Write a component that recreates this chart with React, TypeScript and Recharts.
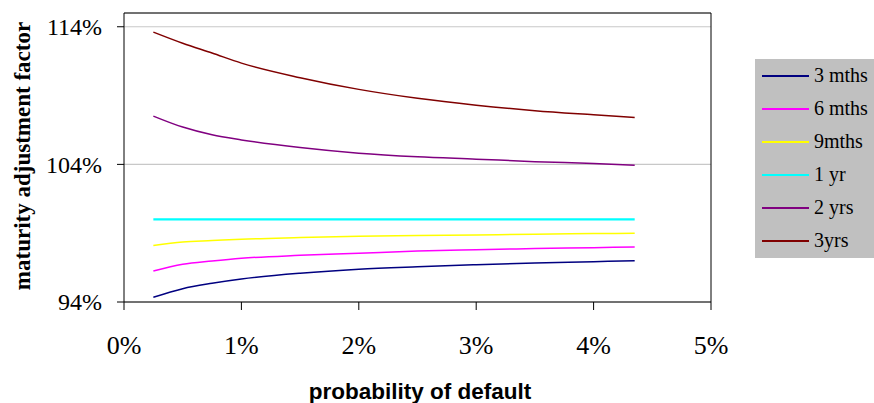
import React from 'react';
import { LineChart, Line, XAxis, YAxis, CartesianGrid, ReferenceLine, Legend } from 'recharts';

const pd = [0.25, 0.5, 0.75, 1, 1.5, 2, 2.5, 3, 3.5, 4, 4.35];
const m3 = [94.34, 94.97, 95.36, 95.67, 96.09, 96.38, 96.56, 96.71, 96.84, 96.93, 97.0];
const m6 = [96.25, 96.74, 96.98, 97.18, 97.39, 97.54, 97.7, 97.8, 97.88, 97.95, 98.0];
const m9 = [98.1, 98.36, 98.46, 98.56, 98.68, 98.78, 98.83, 98.87, 98.92, 98.97, 99.0];
const y1 = [100, 100, 100, 100, 100, 100, 100, 100, 100, 100, 100];
const y2 = [107.51, 106.71, 106.15, 105.78, 105.22, 104.81, 104.55, 104.38, 104.2, 104.06, 103.94];
const y3 = [113.61, 112.8, 112.09, 111.36, 110.3, 109.45, 108.8, 108.3, 107.9, 107.6, 107.4];

const xTicks = [0, 1, 2, 3, 4, 5];
const yTicks = [94, 104, 114];

const series = [
  { key: 'm3', name: '3 mths', color: '#000080', width: 1.5 },
  { key: 'm6', name: '6 mths', color: '#FF00FF', width: 1.5 },
  { key: 'm9', name: '9mths', color: '#FFFF00', width: 1.5 },
  { key: 'y1', name: '1 yr', color: '#00FFFF', width: 2.2 },
  { key: 'y2', name: '2 yrs', color: '#800080', width: 1.5 },
  { key: 'y3', name: '3yrs', color: '#800000', width: 1.5 },
];

const data = pd.map((p, i) => ({ pd: p, m3: m3[i], m6: m6[i], m9: m9[i], y1: y1[i], y2: y2[i], y3: y3[i] }));

const serif = "'Liberation Serif', 'Times New Roman', serif";
const sans = "'Liberation Sans', Arial, sans-serif";

const XTick = (props: any) => (
  <text x={props.x} y={props.y} dy="0.71em" textAnchor="middle" fill="#000" style={{ fontFamily: serif, fontSize: 26 }}>
    {`${props.payload.value}%`}
  </text>
);

const YTick = (props: any) => (
  <text x={props.x} y={props.y} dy="0.35em" textAnchor="end" fill="#000" style={{ fontFamily: serif, fontSize: 24 }}>
    {`${props.payload.value}%`}
  </text>
);

const LegendBox = () => (
  <div style={{ background: '#C0C0C0', width: 119, height: 199, boxSizing: 'border-box' }}>
    {series.map((s) => (
      <div key={s.key} style={{ height: 33, display: 'flex', alignItems: 'center' }}>
        <div style={{ marginLeft: 7, width: 47, height: 2, background: s.color }} />
        <span style={{ marginLeft: 5, fontFamily: serif, fontSize: 20, color: '#000', whiteSpace: 'nowrap' }}>{s.name}</span>
      </div>
    ))}
  </div>
);

export default function App() {
  return (
    <div style={{ position: 'absolute', left: 0, top: 0, width: 874, height: 403, background: '#fff', overflow: 'hidden', fontFamily: serif }}>
      <LineChart width={874} height={403} data={data} margin={{ top: 13, right: 163, left: 0, bottom: 0 }}>
        <CartesianGrid horizontal={true} vertical={false} stroke="#c8c8c8" strokeWidth={1.2} />
        <XAxis
          dataKey="pd"
          type="number"
          domain={[0, 5]}
          ticks={xTicks}
          height={101}
          tickSize={8}
          tickMargin={26}
          stroke="#000"
          tick={<XTick />}
          label={{
            content: () => (
              <text x={420} y={399} textAnchor="middle" style={{ fontFamily: sans, fontWeight: 'bold', fontSize: 22.5 }} fill="#000">
                probability of default
              </text>
            ),
          }}
        />
        <YAxis
          type="number"
          domain={[94, 115]}
          ticks={yTicks}
          width={124}
          tickSize={7}
          tickMargin={15}
          stroke="#000"
          tick={<YTick />}
          label={{
            content: () => (
              <text x={30} y={156} transform="rotate(-90 30 156)" textAnchor="middle" style={{ fontFamily: serif, fontWeight: 'bold', fontSize: 23 }} fill="#000">
                maturity adjustment factor
              </text>
            ),
          }}
        />
        <ReferenceLine y={115} stroke="#000" strokeWidth={1} />
        <ReferenceLine x={5} stroke="#000" strokeWidth={1} />
        {series.map((s) => (
          <Line
            key={s.key}
            dataKey={s.key}
            name={s.name}
            type="monotone"
            stroke={s.color}
            strokeWidth={s.width}
            dot={false}
            activeDot={false}
            isAnimationActive={false}
          />
        ))}
        <Legend
          layout="horizontal"
          verticalAlign="middle"
          align="center"
          content={<LegendBox />}
          wrapperStyle={{ left: 755, top: 59, width: 119, height: 199 }}
        />
      </LineChart>
    </div>
  );
}
